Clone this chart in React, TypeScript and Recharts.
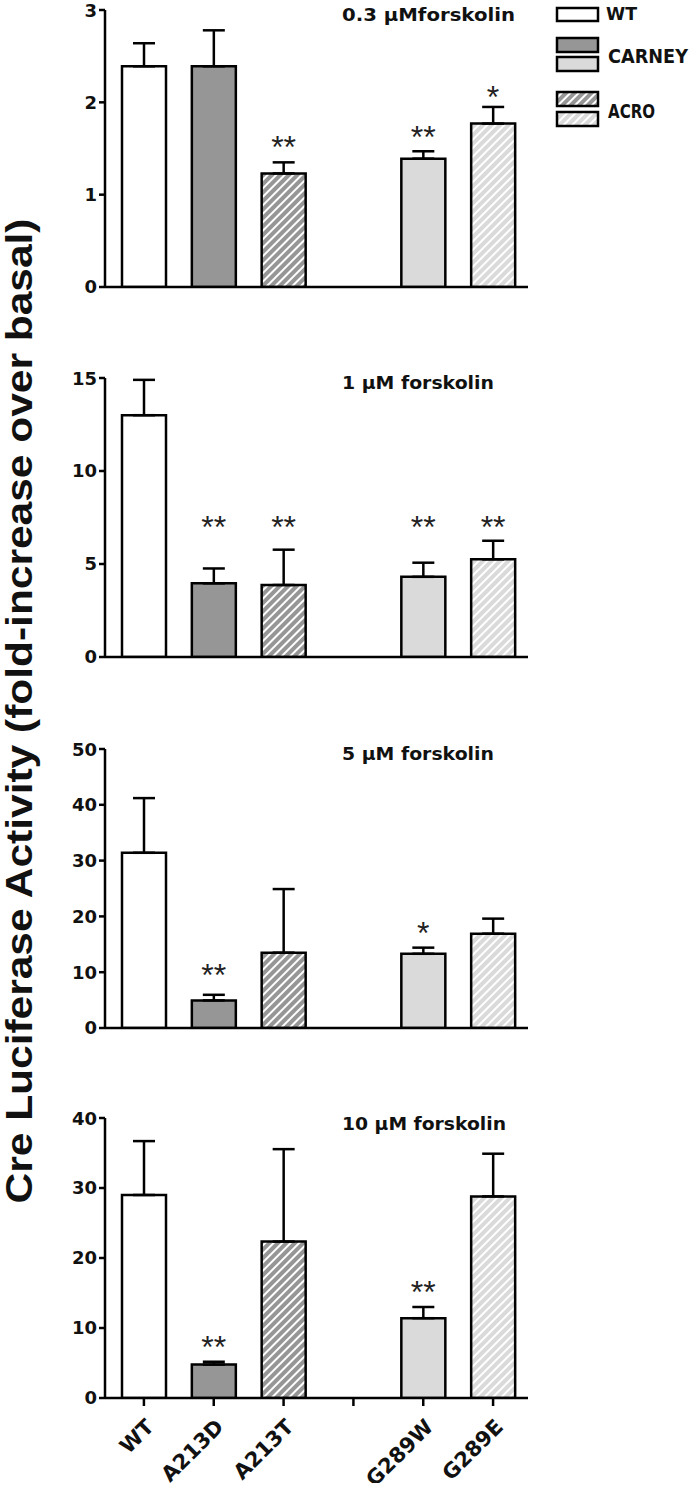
import { ComposedChart, Bar, Cell, ErrorBar, Line, XAxis, YAxis } from "recharts";

// mutants on the x axis; the empty slot is the gap between the two groups
const categories = ["WT", "A213D", "A213T", " ", "G289W", "G289E"];

// 0.3 µM forskolin
const mean03 = [2.39, 2.39, 1.23, null, 1.39, 1.77];
const sem03 = [0.25, 0.39, 0.12, null, 0.08, 0.18];
const stars03 = ["", "", "**", "", "**", "*"];
const starAt03 = [null, null, 1.59, null, 1.7, 2.13];

// 1 µM forskolin
const mean1 = [13.0, 3.96, 3.87, null, 4.31, 5.25];
const sem1 = [1.9, 0.8, 1.9, null, 0.76, 1.0];
const stars1 = ["", "**", "**", "", "**", "**"];
const starAt1 = [null, 7.37, 7.37, null, 7.37, 7.37];

// 5 µM forskolin
const mean5 = [31.4, 4.95, 13.5, null, 13.3, 16.9];
const sem5 = [9.8, 1.0, 11.4, null, 1.1, 2.7];
const stars5 = ["", "**", "", "", "*", ""];
const starAt5 = [null, 10.7, null, null, 18.2, null];

// 10 µM forskolin
const mean10 = [29.0, 4.78, 22.35, null, 11.4, 28.8];
const sem10 = [7.7, 0.4, 13.2, null, 1.6, 6.1];
const stars10 = ["", "**", "", "", "**", ""];
const starAt10 = [null, 8.3, null, null, 16.1, null];

const DARK = "#969696";
const LIGHT = "#dadada";
const BOLD_FONT = "'DejaVu Sans', Verdana, sans-serif";

const panels = [
  { id: "p03", title: "0.3 µMforskolin", titleLen: 173, titleY: 21, mean: mean03, sem: sem03, stars: stars03, starAt: starAt03, ticks: [0, 1, 2, 3], top: 10, h: 277, labels: false },
  { id: "p1", title: "1 µM forskolin", titleLen: 152, titleY: 389, mean: mean1, sem: sem1, stars: stars1, starAt: starAt1, ticks: [0, 5, 10, 15], top: 378, h: 279, labels: false },
  { id: "p5", title: "5 µM forskolin", titleLen: 152, titleY: 760, mean: mean5, sem: sem5, stars: stars5, starAt: starAt5, ticks: [0, 10, 20, 30, 40, 50], top: 749, h: 279, labels: false },
  { id: "p10", title: "10 µM forskolin", titleLen: 164, titleY: 1130, mean: mean10, sem: sem10, stars: stars10, starAt: starAt10, ticks: [0, 10, 20, 30, 40], top: 1118, h: 280, labels: true },
];

const Hatch = ({ id, base }: { id: string; base: string }) => (
  <pattern id={id} patternUnits="userSpaceOnUse" width="6" height="6" patternTransform="rotate(45)">
    <rect width="6" height="6" fill={base} />
    <rect width="2" height="6" fill="#fff" />
  </pattern>
);

const renderStar = (props: any) => {
  const { cx, cy, payload, index } = props;
  if (cy == null || !payload.star) return <g key={`st-${index}`} />;
  return (
    <text key={`st-${index}`} x={cx} y={cy + 18} textAnchor="middle" fontFamily="'Liberation Sans', Arial" fontSize={32} fill="#222">
      {payload.star}
    </text>
  );
};

const SlantTick = (props: any) => {
  const { x, y, payload } = props;
  if (!payload.value.trim()) return <g />;
  const ax = x + 6;
  const ay = y + 15;
  return (
    <text
      x={ax}
      y={ay}
      textAnchor="end"
      dy="0.35em"
      transform={`rotate(-45, ${ax}, ${ay})`}
      fontFamily={BOLD_FONT}
      fontWeight={700}
      fontSize={21}
      fill="#111"
    >
      {payload.value}
    </text>
  );
};

const Panel = ({ p }: { p: (typeof panels)[number] }) => {
  const rows = categories.map((name, i) => ({
    name,
    mean: p.mean[i],
    err: p.sem[i] == null ? null : [0, p.sem[i]],
    star: p.stars[i],
    starAt: p.starAt[i],
  }));
  const fills = ["#fff", DARK, `url(#${p.id}-hd)`, "none", LIGHT, `url(#${p.id}-hl)`];
  const axisH = p.labels ? 85 : 20;
  return (
    <div style={{ position: "absolute", left: 0, top: p.top - 10 }}>
      <ComposedChart width={560} height={10 + p.h + axisH} data={rows} margin={{ top: 10, right: 32, left: 0, bottom: 0 }}>
        <defs>
          <Hatch id={`${p.id}-hd`} base={DARK} />
          <Hatch id={`${p.id}-hl`} base={LIGHT} />
        </defs>
        <XAxis
          dataKey="name"
          height={axisH}
          padding={{ left: 4, right: 0 }}
          axisLine={{ stroke: "#000", strokeWidth: 2.5 }}
          tickLine={{ stroke: "#000", strokeWidth: 2.5 }}
          tickSize={8}
          tick={p.labels ? <SlantTick /> : false}
          interval={0}
        />
        <YAxis
          width={105}
          domain={[0, p.ticks[p.ticks.length - 1]]}
          ticks={p.ticks}
          allowDataOverflow
          axisLine={{ stroke: "#000", strokeWidth: 2.5 }}
          tickLine={{ stroke: "#000", strokeWidth: 2.5 }}
          tickSize={6}
          tickMargin={2}
          tick={{ fontFamily: BOLD_FONT, fontWeight: 700, fontSize: 18, fill: "#111" }}
        />
        <Bar dataKey="mean" barSize={44} stroke="#000" strokeWidth={2.5} isAnimationActive={false}>
          {rows.map((_, i) => (
            <Cell key={`c-${i}`} fill={fills[i]} />
          ))}
          <ErrorBar dataKey="err" width={11} stroke="#000" strokeWidth={2.5} direction="y" />
        </Bar>
        <Line dataKey="starAt" stroke="none" dot={renderStar} activeDot={false} isAnimationActive={false} />
      </ComposedChart>
    </div>
  );
};

export default function App() {
  return (
    <div style={{ position: "absolute", left: 0, top: 0, width: 693, height: 1485, background: "#fff", overflow: "hidden" }}>
      {panels.map((p) => (
        <Panel key={p.id} p={p} />
      ))}
      <svg width={693} height={1485} style={{ position: "absolute", left: 0, top: 0, pointerEvents: "none" }}>
        <defs>
          <Hatch id="lg-hd" base={DARK} />
          <Hatch id="lg-hl" base={LIGHT} />
        </defs>
        <text
          transform="translate(32,711) rotate(-90)"
          textAnchor="middle"
          fontFamily="'Liberation Sans', Arial"
          fontWeight={700}
          fontSize={37}
          textLength={985}
          lengthAdjust="spacingAndGlyphs"
          fill="#111"
        >
          Cre Luciferase Activity (fold-increase over basal)
        </text>
        {panels.map((p) => (
          <text key={p.id} x={342} y={p.titleY} fontFamily={BOLD_FONT} fontWeight={700} fontSize={17} textLength={p.titleLen} lengthAdjust="spacingAndGlyphs" fill="#111">
            {p.title}
          </text>
        ))}
        <g stroke="#000" strokeWidth={2.5}>
          <rect x={557} y={8} width={41} height={13} fill="#fff" />
          <rect x={557} y={38} width={41} height={14} fill={DARK} />
          <rect x={557} y={57} width={41} height={14} fill={LIGHT} />
          <rect x={557} y={92} width={41} height={14} fill="url(#lg-hd)" />
          <rect x={557} y={112} width={41} height={14} fill="url(#lg-hl)" />
        </g>
        <g fontFamily={BOLD_FONT} fontWeight={700} fill="#111">
          <text x={606} y={20} fontSize={17} textLength={31} lengthAdjust="spacingAndGlyphs">WT</text>
          <text x={608} y={63} fontSize={19} textLength={80} lengthAdjust="spacingAndGlyphs">CARNEY</text>
          <text x={608} y={118} fontSize={19} textLength={47} lengthAdjust="spacingAndGlyphs">ACRO</text>
        </g>
      </svg>
    </div>
  );
}
